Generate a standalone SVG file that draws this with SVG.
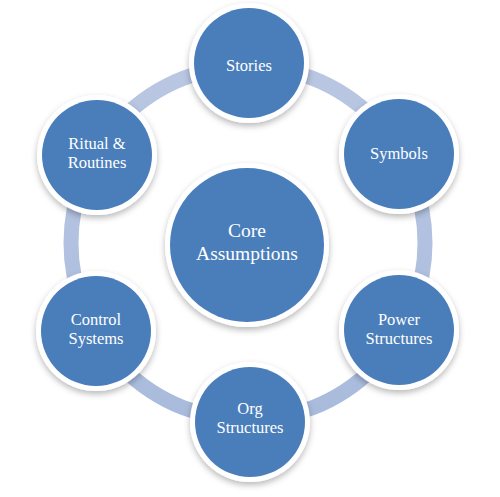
<svg xmlns="http://www.w3.org/2000/svg" width="500" height="497" viewBox="0 0 500 497">
<defs>
<filter id="sh" x="-20%" y="-20%" width="140%" height="150%">
<feDropShadow dx="0" dy="3" stdDeviation="3" flood-color="#000" flood-opacity="0.28"/>
</filter>
<linearGradient id="rg" x1="0" y1="0" x2="0" y2="1">
<stop offset="0" stop-color="#b9c7e2"/>
<stop offset="1" stop-color="#a9bbdc"/>
</linearGradient>
</defs>
<style>
.w{fill:#ffffff;filter:url(#sh)}
.b{fill:#4a7ebb}
.t{font-family:"Liberation Serif","Times New Roman",serif;font-size:16.5px;fill:#ffffff;text-anchor:middle}
.c{font-size:19.5px}
</style>
<rect width="500" height="497" fill="#ffffff"/>
<g id="connectors">
<circle cx="248" cy="243" r="177" fill="none" stroke="url(#rg)" stroke-width="15"/>
</g>
<g id="core">
<circle class="w" cx="247" cy="245" r="82"/>
<circle class="b" cx="247" cy="245" r="77"/>
<text class="t c" x="247" y="237">Core</text>
<text class="t c" x="247" y="260">Assumptions</text>
</g>
<g id="stories">
<circle class="w" cx="249" cy="63" r="60"/>
<circle class="b" cx="249" cy="63" r="55"/>
<text class="t" x="249" y="71">Stories</text>
</g>
<g id="symbols">
<circle class="w" cx="399" cy="154" r="60"/>
<circle class="b" cx="399" cy="154" r="55"/>
<text class="t" x="399" y="159">Symbols</text>
</g>
<g id="power">
<circle class="w" cx="399" cy="330" r="60"/>
<circle class="b" cx="399" cy="330" r="55"/>
<text class="t" x="399" y="325">Power</text>
<text class="t" x="399" y="344">Structures</text>
</g>
<g id="org">
<circle class="w" cx="250" cy="422" r="60"/>
<circle class="b" cx="250" cy="422" r="55"/>
<text class="t" x="250" y="414">Org</text>
<text class="t" x="250" y="433">Structures</text>
</g>
<g id="control">
<circle class="w" cx="96" cy="331" r="60"/>
<circle class="b" cx="96" cy="331" r="55"/>
<text class="t" x="96" y="325">Control</text>
<text class="t" x="96" y="344">Systems</text>
</g>
<g id="ritual">
<circle class="w" cx="97" cy="155" r="60"/>
<circle class="b" cx="97" cy="155" r="55"/>
<text class="t" x="97" y="149">Ritual &amp;</text>
<text class="t" x="97" y="168">Routines</text>
</g>
</svg>
